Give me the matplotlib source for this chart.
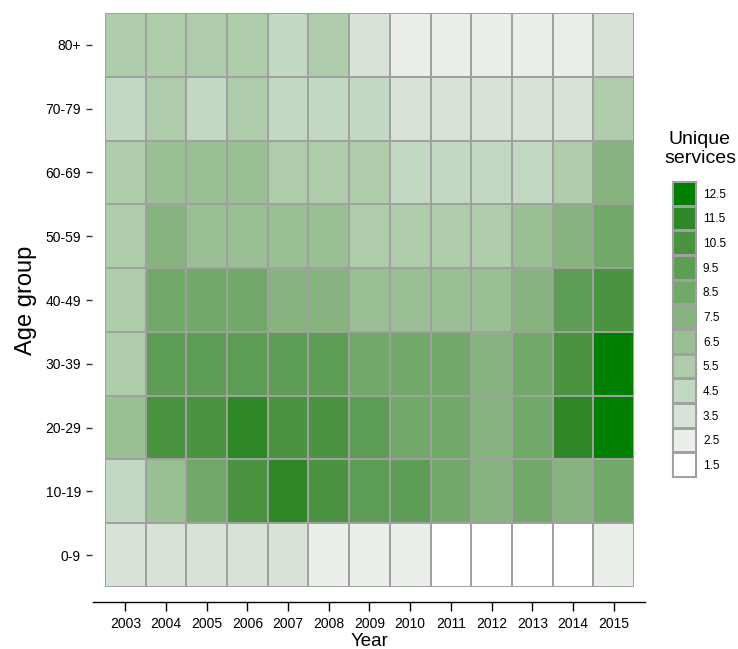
import numpy as np
import matplotlib
matplotlib.use('Agg')
import matplotlib.pyplot as plt
from matplotlib.colors import ListedColormap, BoundaryNorm

plt.rcParams['font.family'] = ['Liberation Sans', 'DejaVu Sans']

# data
years = ['2003', '2004', '2005', '2006', '2007', '2008', '2009',
         '2010', '2011', '2012', '2013', '2014', '2015']
age_groups = ['0-9', '10-19', '20-29', '30-39', '40-49',
              '50-59', '60-69', '70-79', '80+']
# unique services, one row per age group (0-9 first)
services = [
    [3.5, 3.5, 3.5, 3.5, 3.5, 2.5, 2.5, 2.5, 1.5, 1.5, 1.5, 1.5, 2.5],    # 0-9
    [4.5, 6.5, 8.5, 10.5, 11.5, 10.5, 9.5, 9.5, 8.5, 7.5, 8.5, 7.5, 8.5],  # 10-19
    [6.5, 10.5, 10.5, 11.5, 10.5, 10.5, 9.5, 8.5, 8.5, 7.5, 8.5, 11.5, 12.5],  # 20-29
    [5.5, 9.5, 9.5, 9.5, 9.5, 9.5, 8.5, 8.5, 8.5, 7.5, 8.5, 10.5, 12.5],  # 30-39
    [5.5, 8.5, 8.5, 8.5, 7.5, 7.5, 6.5, 6.5, 6.5, 6.5, 7.5, 9.5, 10.5],   # 40-49
    [5.5, 7.5, 6.5, 6.5, 6.5, 6.5, 5.5, 5.5, 5.5, 5.5, 6.5, 7.5, 8.5],    # 50-59
    [5.5, 6.5, 6.5, 6.5, 5.5, 5.5, 5.5, 4.5, 4.5, 4.5, 4.5, 5.5, 7.5],    # 60-69
    [4.5, 5.5, 4.5, 5.5, 4.5, 4.5, 4.5, 3.5, 3.5, 3.5, 3.5, 3.5, 5.5],    # 70-79
    [5.5, 5.5, 5.5, 5.5, 4.5, 5.5, 3.5, 2.5, 2.5, 2.5, 2.5, 2.5, 3.5],    # 80+
]
levels = [1.5, 2.5, 3.5, 4.5, 5.5, 6.5, 7.5, 8.5, 9.5, 10.5, 11.5, 12.5]
level_colors = ['#FFFFFF', '#EAEFEA', '#D8E3D8', '#C2D8C2', '#AECCAA', '#9ABF94',
                '#87B37F', '#72A86A', '#5E9D55', '#4A9340', '#2F8828', '#007F00']

cmap = ListedColormap(level_colors)
bounds = np.append(np.array(levels) - 0.5, levels[-1] + 0.5)
norm = BoundaryNorm(bounds, cmap.N)
grid = '#A0A0A0'

fig = plt.figure(figsize=(7.38, 6.49), dpi=100)
ax = fig.add_axes([105/738, 62/649, 529/738, 574/649])
Z = np.array(services)
ax.pcolormesh(np.arange(len(years) + 1), np.arange(len(age_groups) + 1), Z,
              cmap=cmap, norm=norm, edgecolor=grid, linewidth=1.2)
ax.set_xlim(0, len(years))
ax.set_ylim(0, len(age_groups))

ax.set_xticks(np.arange(len(years)) + 0.5)
ax.set_xticklabels(years, fontsize=10.5)
ax.set_yticks(np.arange(len(age_groups)) + 0.5)
ax.set_yticklabels(age_groups, fontsize=11)

for s in ['top', 'right', 'left']:
    ax.spines[s].set_visible(False)
ax.spines['left'].set_position(('outward', 9.5))
ax.spines['bottom'].set_position(('outward', 11))
ax.spines['bottom'].set_bounds(-0.29, 13.27)
ax.spines['bottom'].set_linewidth(1.0)
ax.tick_params(axis='x', length=6.5, width=1.0, pad=4, direction='out')
ax.tick_params(axis='y', length=4.3, width=1.0, pad=3.6, direction='out', color='#333333')
ax.set_xlabel('Year', fontsize=13.5, labelpad=1.5)

fig.text(26/738, 1 - 300/649, 'Age group', rotation=90, fontsize=17,
         ha='center', va='center')

# legend
lax = fig.add_axes([672/738, 172/649, 24/738, 296/649])
lax.pcolormesh(np.array([[v] for v in levels]), cmap=cmap, norm=norm,
               edgecolor=grid, linewidth=1.0)
lax.set_xlim(0, 1)
lax.set_ylim(0, len(levels))
lax.set_xticks([])
lax.yaxis.tick_right()
lax.set_yticks(np.arange(len(levels)) + 0.5)
lax.set_yticklabels([str(v) for v in levels], fontsize=8.5)
lax.tick_params(axis='y', length=0, pad=5)
for s in lax.spines.values():
    s.set_color(grid)
fig.text(700/738, 1 - 149/649, 'Unique\nservices', fontsize=14, ha='center',
         va='center', linespacing=1.2)

fig.savefig('out.png', dpi=100)
